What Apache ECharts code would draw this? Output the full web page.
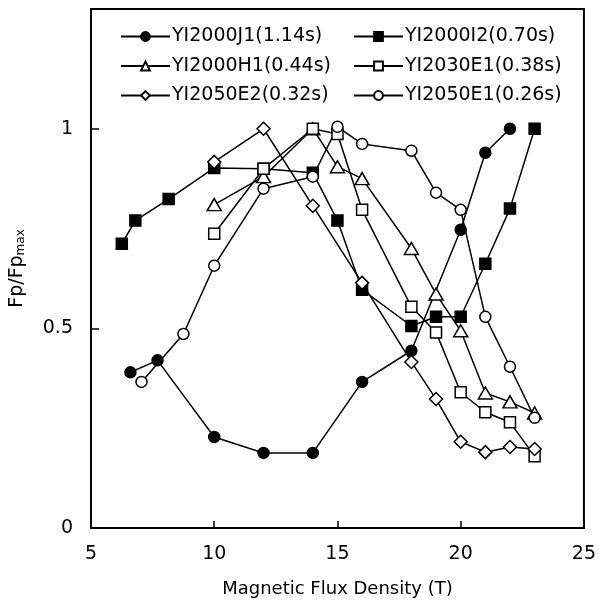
<!DOCTYPE html>
<html>
<head>
  <meta charset="UTF-8">
  <title>Fp/Fpmax vs Magnetic Flux Density</title>
  <script src="https://cdn.jsdelivr.net/npm/echarts@6/dist/echarts.min.js"></script>
  <style>
    html, body { margin: 0; padding: 0; background: #fff; }
  </style>
</head>
<body>
<div id="main" style="width: 599px; height: 607px;"></div>

<script type="text/javascript">
  // 数据
  var j1X = [6.6, 7.7, 10, 12, 14, 16, 18, 20, 21, 22];
  var j1Y = [0.39, 0.42, 0.228, 0.188, 0.188, 0.366, 0.444, 0.747, 0.94, 1.0];

  var i2X = [6.25, 6.8, 8.15, 10, 12, 14, 15, 16, 18, 19, 20, 21, 22, 23];
  var i2Y = [0.712, 0.77, 0.824, 0.902, 0.9, 0.89, 0.77, 0.597, 0.506, 0.529, 0.529, 0.662, 0.80, 1.0];

  var h1X = [10, 12, 14, 15, 16, 18, 19, 20, 21, 22, 23];
  var h1Y = [0.81, 0.88, 1.0, 0.905, 0.875, 0.70, 0.586, 0.494, 0.338, 0.316, 0.288];

  var e2030X = [10, 12, 14, 15, 16, 18, 19, 20, 21, 22, 23];
  var e2030Y = [0.737, 0.90, 1.0, 0.987, 0.797, 0.554, 0.49, 0.34, 0.29, 0.265, 0.18];

  var e2050bX = [10, 12, 14, 16, 18, 19, 20, 21, 22, 23];
  var e2050bY = [0.917, 1.0, 0.807, 0.614, 0.416, 0.323, 0.216, 0.19, 0.203, 0.198];

  var e2050aX = [7.05, 8.75, 10, 12, 14, 15, 16, 18, 19, 20, 21, 22, 23];
  var e2050aY = [0.366, 0.486, 0.657, 0.85, 0.88, 1.005, 0.962, 0.945, 0.84, 0.797, 0.529, 0.404, 0.276];

  var names = ['YI2000J1(1.14s)', 'YI2000I2(0.70s)', 'YI2000H1(0.44s)',
               'YI2030E1(0.38s)', 'YI2050E2(0.32s)', 'YI2050E1(0.26s)'];
  var yTicks = [0, 0.5, 1];

  function pairs(xs, ys) {
    return xs.map(function (x, i) { return [x, ys[i]]; });
  }

  var font = 'DejaVu Sans';

  function makeSeries(name, xs, ys, symbol, size, filled) {
    return {
      name: name,
      type: 'line',
      data: pairs(xs, ys),
      symbol: symbol,
      symbolSize: size,
      showAllSymbol: true,
      lineStyle: { color: '#000', width: 1.5 },
      itemStyle: {
        color: filled ? '#000' : '#fff',
        borderColor: '#000',
        borderWidth: 1.5
      },
      emphasis: { disabled: true },
      animation: false
    };
  }

  var myChart = echarts.init(document.getElementById('main'));

  var legendCommon = {
    orient: 'vertical',
    top: 27,
    padding: 0,
    itemWidth: 49,
    itemHeight: 11,
    itemGap: 10.5,
    selectedMode: false,
    textStyle: { fontFamily: font, fontSize: 19, color: '#000', padding: [0, 0, 0, -3] }
  };

  var option = {
    backgroundColor: '#fff',
    animation: false,
    grid: {
      left: 88,
      right: 12,
      top: 9,
      bottom: 79,
      show: true,
      borderColor: '#000',
      borderWidth: 2,
      backgroundColor: 'transparent'
    },
    legend: [
      Object.assign({}, legendCommon, { left: 120, data: [names[0], names[2], names[4]] }),
      Object.assign({}, legendCommon, { left: 353, data: [names[1], names[3], names[5]] })
    ],
    xAxis: {
      type: 'value',
      min: 5,
      max: 25,
      interval: 5,
      name: 'Magnetic Flux Density (T)',
      nameLocation: 'middle',
      nameGap: 52,
      nameTextStyle: { fontFamily: font, fontSize: 18, color: '#000' },
      axisLine: { show: true, lineStyle: { color: '#000', width: 2 } },
      axisTick: { show: true, inside: true, length: 7, lineStyle: { color: '#000', width: 1.5 } },
      axisLabel: { fontFamily: font, fontSize: 19, color: '#000', margin: 17 },
      splitLine: { show: false }
    },
    yAxis: {
      type: 'value',
      min: 0,
      max: 1.3,
      interval: 0.5,
      name: '{a|Fp/Fp}{b|max}',
      nameLocation: 'middle',
      nameGap: 64,
      nameTextStyle: {
        rich: {
          a: { fontFamily: font, fontSize: 19, color: '#000', lineHeight: 22, verticalAlign: 'bottom' },
          b: { fontFamily: font, fontSize: 12, color: '#000', lineHeight: 22, verticalAlign: 'bottom' }
        }
      },
      axisLine: { show: true, lineStyle: { color: '#000', width: 2 } },
      axisTick: { show: true, inside: true, length: 8, customValues: yTicks, lineStyle: { color: '#000', width: 1.5 } },
      axisLabel: {
        fontFamily: font, fontSize: 19, color: '#000', margin: 18,
        customValues: yTicks,
        formatter: function (v) { return String(v); }
      },
      splitLine: { show: false }
    },
    series: [
      makeSeries(names[0], j1X, j1Y, 'circle', 11, true),
      makeSeries(names[1], i2X, i2Y, 'rect', 11, true),
      makeSeries(names[2], h1X, h1Y, 'triangle', [14, 12], false),
      makeSeries(names[3], e2030X, e2030Y, 'rect', 11, false),
      makeSeries(names[4], e2050bX, e2050bY, 'diamond', [13, 13], false),
      makeSeries(names[5], e2050aX, e2050aY, 'circle', 11, false)
    ]
  };

  myChart.setOption(option);
</script>
</body>
</html>
